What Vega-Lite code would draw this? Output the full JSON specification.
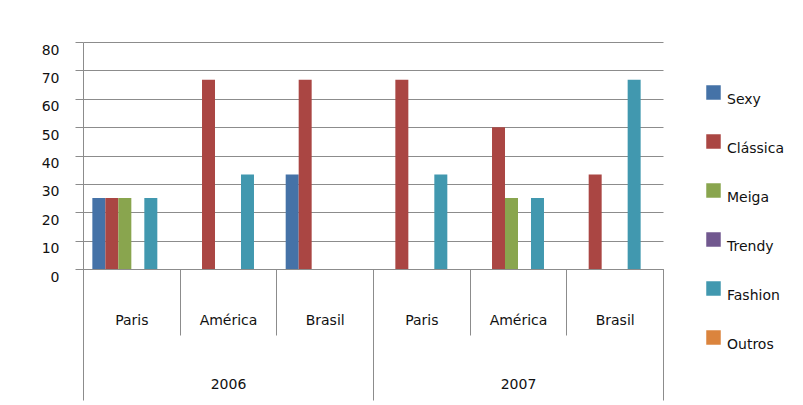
{
  "$schema": "https://vega.github.io/schema/vega-lite/v6.json",
  "width": 580,
  "height": 227,
  "autosize": "none",
  "padding": {"left": 83, "top": 42, "right": 140, "bottom": 136},
  "background": "white",
  "config": {
    "font": "DejaVu Sans",
    "view": {"stroke": null},
    "axis": {"labelFont": "DejaVu Sans", "labelColor": "#111111", "labelFontSize": 14}
  },
  "data": {
    "values": [
      {"year": "2006", "city": "Paris", "key": "2006 Paris", "series": "Sexy", "value": 25},
      {"year": "2006", "city": "Paris", "key": "2006 Paris", "series": "Clássica", "value": 25},
      {"year": "2006", "city": "Paris", "key": "2006 Paris", "series": "Meiga", "value": 25},
      {"year": "2006", "city": "Paris", "key": "2006 Paris", "series": "Fashion", "value": 25},
      {"year": "2006", "city": "América", "key": "2006 América", "series": "Clássica", "value": 66.7},
      {"year": "2006", "city": "América", "key": "2006 América", "series": "Fashion", "value": 33.3},
      {"year": "2006", "city": "Brasil", "key": "2006 Brasil", "series": "Sexy", "value": 33.3},
      {"year": "2006", "city": "Brasil", "key": "2006 Brasil", "series": "Clássica", "value": 66.7},
      {"year": "2007", "city": "Paris", "key": "2007 Paris", "series": "Clássica", "value": 66.7},
      {"year": "2007", "city": "Paris", "key": "2007 Paris", "series": "Fashion", "value": 33.3},
      {"year": "2007", "city": "América", "key": "2007 América", "series": "Clássica", "value": 50},
      {"year": "2007", "city": "América", "key": "2007 América", "series": "Meiga", "value": 25},
      {"year": "2007", "city": "América", "key": "2007 América", "series": "Fashion", "value": 25},
      {"year": "2007", "city": "Brasil", "key": "2007 Brasil", "series": "Clássica", "value": 33.3},
      {"year": "2007", "city": "Brasil", "key": "2007 Brasil", "series": "Fashion", "value": 66.7}
    ]
  },
  "layer": [
    {
      "mark": {"type": "bar"},
      "encoding": {
        "x": {
          "field": "key",
          "type": "nominal",
          "sort": null,
          "scale": {
            "domain": ["2006 Paris", "2006 América", "2006 Brasil", "2007 Paris", "2007 América", "2007 Brasil"],
            "paddingInner": 0,
            "paddingOuter": 0
          },
          "axis": {
            "orient": "bottom",
            "title": null,
            "labelExpr": "split(datum.label, ' ')[1]",
            "labelAngle": 0,
            "labelBaseline": "middle",
            "labelPadding": -15,
            "tickBand": "extent",
            "tickSize": 66,
            "tickColor": "#8c8c8c",
            "domainColor": "#8c8c8c"
          }
        },
        "xOffset": {
          "field": "series",
          "type": "nominal",
          "scale": {
            "domain": ["Sexy", "Clássica", "Meiga", "Trendy", "Fashion", "Outros"],
            "paddingInner": 0,
            "paddingOuter": 0.72
          }
        },
        "y": {
          "field": "value",
          "type": "quantitative",
          "scale": {"domain": [0, 80], "nice": false},
          "axis": {
            "title": null,
            "values": [0, 10, 20, 30, 40, 50, 60, 70, 80],
            "labelOverlap": false,
            "tickSize": 8,
            "tickColor": "#8c8c8c",
            "gridColor": "#8c8c8c",
            "gridOpacity": 1,
            "domainColor": "#8c8c8c",
            "labelPadding": 16,
            "labelOffset": 8
          }
        },
        "color": {
          "field": "series",
          "type": "nominal",
          "scale": {
            "domain": ["Sexy", "Clássica", "Meiga", "Trendy", "Fashion", "Outros"],
            "range": ["#4572A7", "#AA4643", "#89A54E", "#71588F", "#4198AF", "#DB843D"]
          },
          "legend": {
            "orient": "none",
            "legendX": 623,
            "legendY": 43,
            "title": null,
            "symbolType": "square",
            "symbolSize": 210,
            "symbolStrokeWidth": 0,
            "symbolOpacity": 1,
            "labelFontSize": 14,
            "labelColor": "#111111",
            "labelBaseline": "top",
            "labelOffset": 6,
            "rowPadding": 27
          }
        }
      }
    },
    {
      "mark": {"type": "bar", "opacity": 0},
      "encoding": {
        "x": {
          "field": "year",
          "type": "nominal",
          "scale": {"domain": ["2006", "2007"], "paddingInner": 0, "paddingOuter": 0},
          "axis": {
            "orient": "bottom",
            "title": null,
            "labelAngle": 0,
            "labelBaseline": "middle",
            "labelPadding": -16,
            "tickBand": "extent",
            "tickSize": 131,
            "tickColor": "#8c8c8c",
            "domain": false
          }
        }
      }
    }
  ],
  "resolve": {"scale": {"x": "independent"}, "axis": {"x": "independent"}}
}
